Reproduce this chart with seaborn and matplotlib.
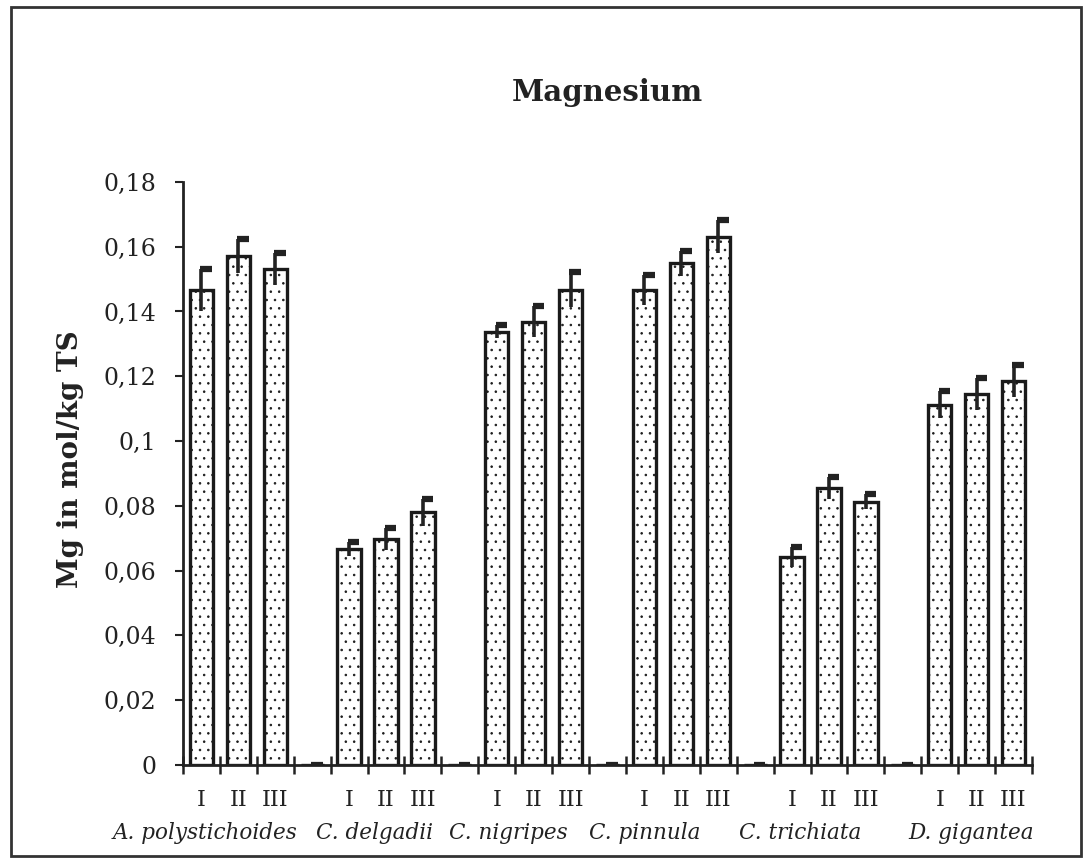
import matplotlib
matplotlib.use("Agg")
import matplotlib.pyplot as plt
import matplotlib.patches as mpatches
import matplotlib.transforms as mtrans
import seaborn as sns
import pandas as pd
import numpy as np

# ---------- Data ----------
species = ["A. polystichoides", "C. delgadii", "C. nigripes",
           "C. pinnula", "C. trichiata", "D. gigantea"]
sites = ["I", "II", "III"]

mg_mean = [
    [0.1467, 0.1572, 0.1531],
    [0.0667, 0.0698, 0.0780],
    [0.1338, 0.1369, 0.1467],
    [0.1467, 0.1549, 0.1631],
    [0.0641, 0.0854, 0.0813],
    [0.1112, 0.1145, 0.1186],
]
mg_err = [
    [0.0064, 0.0052, 0.0050],
    [0.0022, 0.0033, 0.0041],
    [0.0021, 0.0048, 0.0054],
    [0.0046, 0.0039, 0.0050],
    [0.0031, 0.0034, 0.0023],
    [0.0041, 0.0049, 0.0049],
]
y_ticks = [0, 0.02, 0.04, 0.06, 0.08, 0.1, 0.12, 0.14, 0.16, 0.18]
y_ticklabels = ["0", "0,02", "0,04", "0,06", "0,08", "0,1",
                "0,12", "0,14", "0,16", "0,18"]
# label centres in slot units (labels run as one line under the axis)
species_label_x = [0.10, 4.70, 8.32, 12.0, 16.22, 20.85]

# ---------- Build slot table (empty zero slot between species) ----------
rows = []
for i, sp in enumerate(species):
    if i > 0:
        rows.append({"slot": f"gap{i}", "site": "", "species": sp,
                     "mg": 0.0, "err": 0.0})
    for j, s in enumerate(sites):
        rows.append({"slot": f"{sp}-{s}", "site": s, "species": sp,
                     "mg": mg_mean[i][j], "err": mg_err[i][j]})
df = pd.DataFrame(rows)
df["x"] = np.arange(len(df))

# ---------- Plot ----------
sns.set_theme(style="white")
plt.rcParams["font.family"] = ["DejaVu Serif"]
plt.rcParams["hatch.linewidth"] = 0.6

fig = plt.figure(figsize=(10.9, 8.63), dpi=100)
ax = fig.add_axes([0.1679, 0.1136, 0.7789, 0.6756])

sns.barplot(data=df, x="slot", y="mg", order=list(df["slot"]),
            color="white", edgecolor="#1a1a1a", linewidth=2.4,
            width=0.63, hatch="..", errorbar=None, ax=ax)
for p in ax.patches:
    p.set_facecolor("white")

# one-sided error bars with a little flag to the right
ax.vlines(df["x"], df["mg"] - df["err"], df["mg"] + df["err"],
          color="#222222", lw=2.6, zorder=5)
ax.hlines(df["mg"] + df["err"], df["x"] - 0.03, df["x"] + 0.28,
          color="#222222", lw=4.5, zorder=5)

ax.set_xlim(-0.5, len(df) - 0.5)
ax.set_ylim(0, 0.18)
ax.set_yticks(y_ticks)
ax.set_yticklabels(y_ticklabels, fontsize=17, color="#222222")
ax.set_xticks(np.arange(-0.5, len(df), 1))
ax.set_xticklabels([])
ax.tick_params(axis="x", direction="inout", length=13, width=1.8,
               color="#222222", bottom=True)
ax.tick_params(axis="y", direction="out", length=6, width=1.5,
               color="#222222", pad=13, left=True)

for side in ["top", "right"]:
    ax.spines[side].set_visible(False)
for side in ["left", "bottom"]:
    ax.spines[side].set_color("#222222")
    ax.spines[side].set_linewidth(2)

ax.set_xlabel("")
ax.set_ylabel("Mg in mol/kg TS", fontsize=20, fontweight="bold",
              color="#222222")
ax.yaxis.set_label_coords(-0.117, 0.524)

trans = mtrans.blended_transform_factory(ax.transData, ax.transAxes)
for _, r in df[df["site"] != ""].iterrows():
    ax.text(r["x"], -0.06, r["site"], transform=trans, ha="center",
            va="center", fontsize=16, color="#222222")
for sp, lx in zip(species, species_label_x):
    ax.text(lx, -0.117, sp, transform=trans, ha="center", va="center",
            fontsize=15.5, style="italic", color="#222222")

ax.text(0.5, 1.153, "Magnesium", transform=ax.transAxes, ha="center",
        va="center", fontsize=21, fontweight="bold", color="#222222")

# frame around the whole figure
fig.patches.append(mpatches.Rectangle((11 / 1090, 7 / 863), 1070 / 1090,
                                      849 / 863, transform=fig.transFigure,
                                      fill=False, edgecolor="#333333",
                                      lw=2))

fig.savefig("out.png", dpi=100)
plt.close(fig)
